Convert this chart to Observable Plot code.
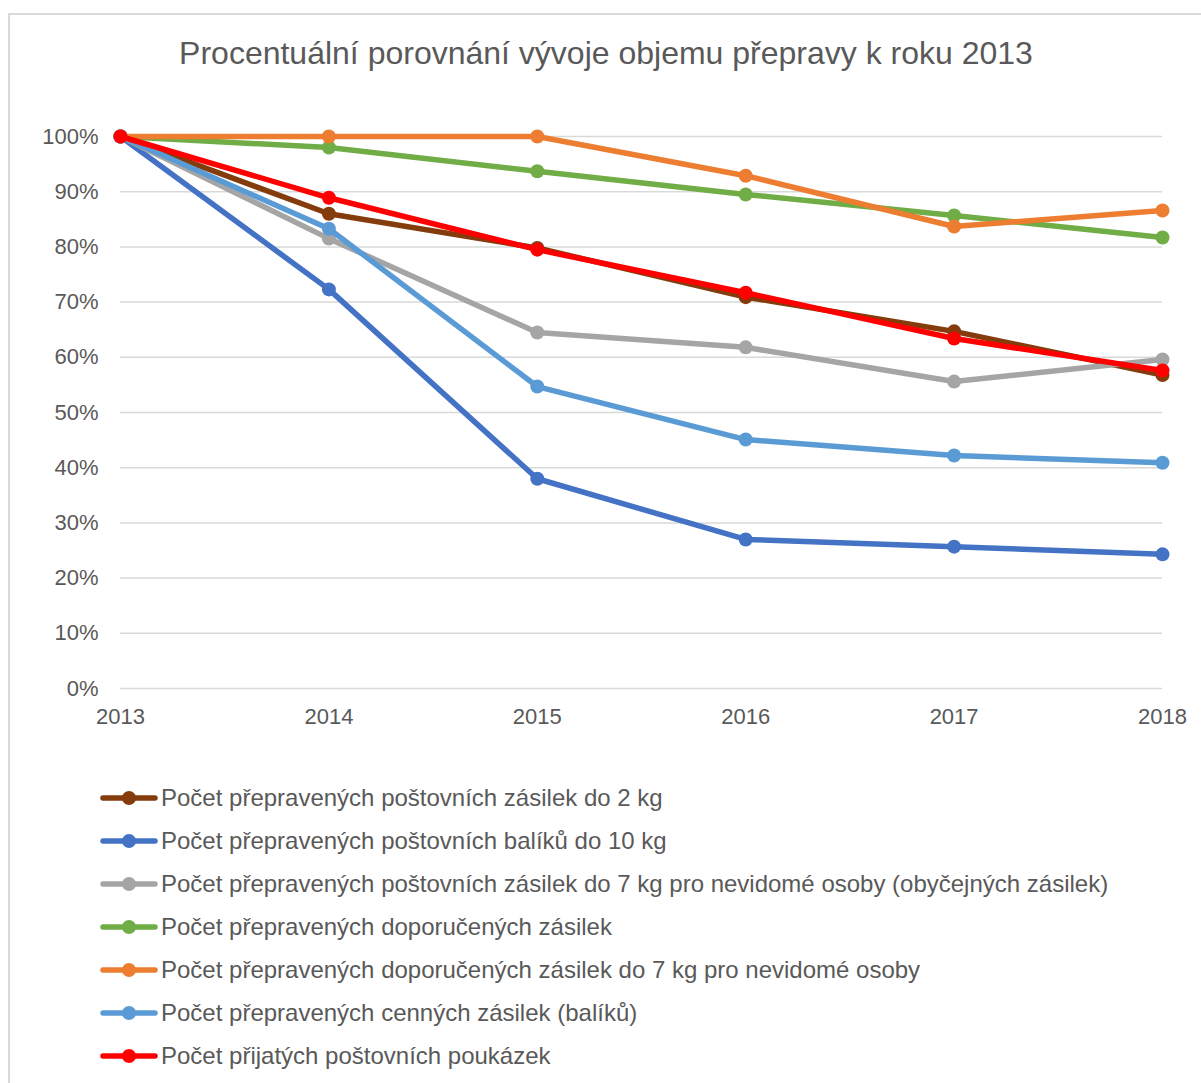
<!DOCTYPE html>
<html><head><meta charset="utf-8">
<script src="https://cdn.jsdelivr.net/npm/d3@7"></script>
<script src="https://cdn.jsdelivr.net/npm/@observablehq/plot@0.6"></script>
<style>
body{margin:0;background:#fff;font-family:"Liberation Sans",Arial,sans-serif;width:1201px;height:1083px;overflow:hidden;position:relative;}
#frame{position:absolute;left:8px;top:13px;width:1193px;height:1070px;border-left:2px solid #d9d9d9;border-top:2px solid #d9d9d9;box-sizing:border-box;z-index:5;pointer-events:none;}
#title{position:absolute;left:0;width:1212px;top:35px;text-align:center;font-size:32px;line-height:36px;color:#595959;}
#chart{position:absolute;left:0;top:100px;}
#legend{position:absolute;left:100px;top:776px;}
.row{height:43px;display:flex;align-items:center;font-size:24px;color:#595959;white-space:nowrap;}
.row svg{margin-right:3px;}
</style></head>
<body>
<div id="frame"></div>
<div id="title">Procentuální porovnání vývoje objemu přepravy k roku 2013</div>
<div id="chart"></div>
<div id="legend"></div>
<script>
const years = [2013, 2014, 2015, 2016, 2017, 2018];
const names = [
  "Počet přepravených poštovních zásilek do 2 kg",
  "Počet přepravených poštovních balíků do 10 kg",
  "Počet přepravených poštovních zásilek do 7 kg pro nevidomé osoby (obyčejných zásilek)",
  "Počet přepravených doporučených zásilek",
  "Počet přepravených doporučených zásilek do 7 kg pro nevidomé osoby",
  "Počet přepravených cenných zásilek (balíků)",
  "Počet přijatých poštovních poukázek"
];
const colors = ["#843C0C", "#4472C4", "#A5A5A5", "#70AD47", "#ED7D31", "#5B9BD5", "#FF0000"];
const zasilky2kg   = [100, 86.0, 79.8, 70.9, 64.7, 56.8];
const baliky10kg   = [100, 72.3, 38.0, 27.0, 25.7, 24.3];
const nevidomeObyc = [100, 81.5, 64.5, 61.8, 55.6, 59.6];
const doporucene   = [100, 98.0, 93.7, 89.5, 85.7, 81.7];
const doporNevid   = [100, 100, 100, 92.9, 83.7, 86.6];
const cenne        = [100, 83.3, 54.7, 45.1, 42.2, 40.9];
const poukazky     = [100, 88.9, 79.5, 71.7, 63.4, 57.6];
const series = [zasilky2kg, baliky10kg, nevidomeObyc, doporucene, doporNevid, cenne, poukazky];
const yTicks = [0, 10, 20, 30, 40, 50, 60, 70, 80, 90, 100];

const data = names.flatMap((n, i) => series[i].map((v, j) => ({name: n, year: years[j], value: v})));

const seriesMarks = names.flatMap(n => {
  const d = data.filter(r => r.name === n);
  return [
    Plot.line(d, {x: "year", y: "value", stroke: "name", strokeWidth: 5.5}),
    Plot.dot(d, {x: "year", y: "value", fill: "name", r: 7})
  ];
});

const chart = Plot.plot({
  width: 1201, height: 640,
  marginLeft: 120, marginRight: 39, marginTop: 36, marginBottom: 52,
  style: {fontFamily: "'Liberation Sans', Arial, sans-serif", fontSize: "22px", color: "#595959", background: "transparent", overflow: "visible"},
  x: {domain: [2013, 2018], ticks: years, tickFormat: d => String(d), tickSize: 0, tickPadding: 20, label: null},
  y: {domain: [0, 100], ticks: yTicks, tickFormat: d => d + "%", tickSize: 0, tickPadding: 22, label: null},
  color: {domain: names, range: colors},
  marks: [
    Plot.ruleY(yTicks, {stroke: "#d9d9d9", strokeWidth: 1.5}),
    ...seriesMarks
  ]
});
chart.querySelectorAll("g[aria-label$='axis'] path").forEach(p => p.remove());
document.getElementById("chart").appendChild(chart);

const legend = document.getElementById("legend");
names.forEach((n, i) => {
  const row = document.createElement("div");
  row.className = "row";
  row.innerHTML = `<svg width="58" height="20"><line x1="3" y1="10" x2="55" y2="10" stroke="${colors[i]}" stroke-width="5.5" stroke-linecap="round"/><circle cx="29" cy="10" r="7" fill="${colors[i]}"/></svg><span>${n}</span>`;
  legend.appendChild(row);
});
</script>
</body></html>
